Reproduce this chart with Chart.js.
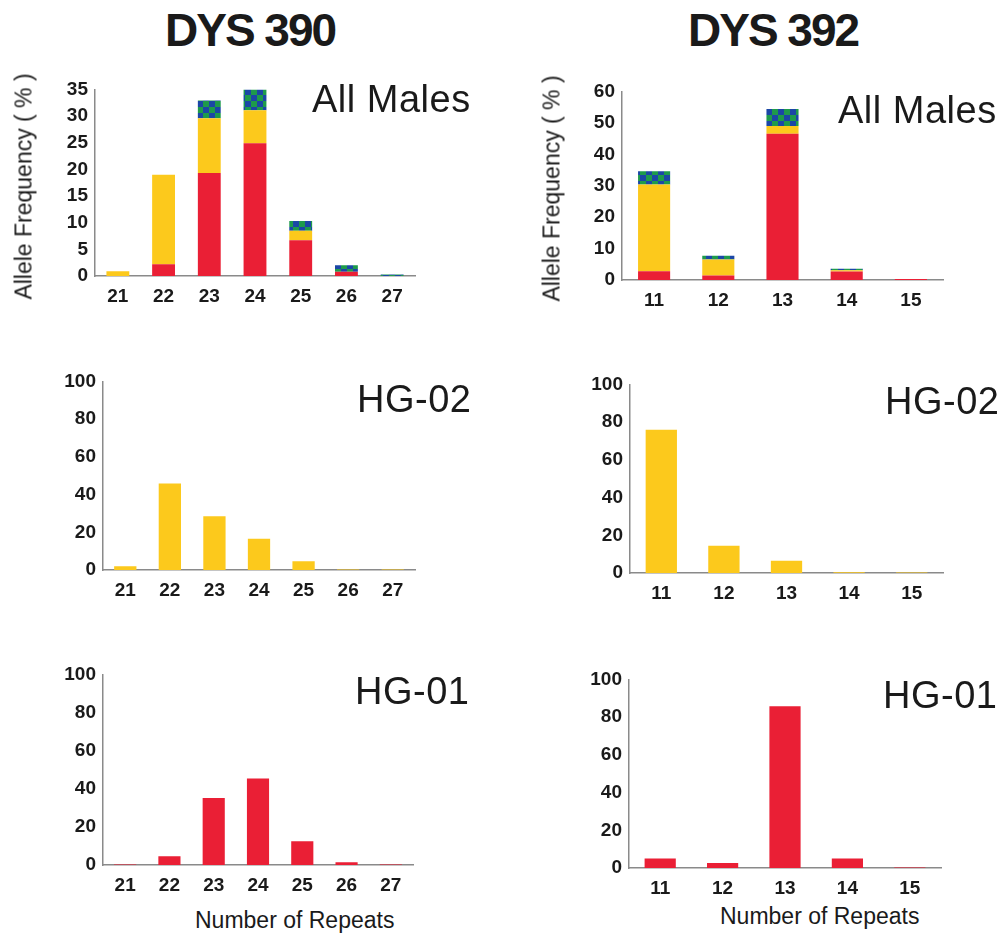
<!DOCTYPE html>
<html>
<head>
<meta charset="utf-8">
<script src="https://cdn.jsdelivr.net/npm/chart.js@4/dist/chart.umd.min.js"></script>
<style>
  body { margin: 0; background: #fff; }
  #page { position: relative; width: 1002px; height: 937px; overflow: hidden; font-family: "Liberation Sans", Arial, sans-serif; color: #1a1a1a; }
  .txt { position: absolute; white-space: nowrap; line-height: 1; }
  canvas { position: absolute; }
</style>
</head>
<body>
<div id="page"></div>
<script>
// categories
var dys390Repeats = ['21', '22', '23', '24', '25', '26', '27'];
var dys392Repeats = ['11', '12', '13', '14', '15'];

// DYS 390, all males, stacked (HG-01 red / HG-02 yellow / others checkered)
var dys390AllHg01 = [0, 2.2, 19.3, 24.9, 6.7, 0.8, 0];
var dys390AllHg02 = [0.9, 16.8, 10.3, 6.2, 1.8, 0, 0];
var dys390AllOther = [0, 0, 3.3, 3.9, 1.8, 1.2, 0.3];

// DYS 392, all males, stacked
var dys392AllHg01 = [2.8, 1.4, 46.5, 2.7, 0.3];
var dys392AllHg02 = [27.6, 5.1, 2.5, 0.4, 0];
var dys392AllOther = [4.2, 1.2, 5.4, 0.5, 0];

// haplogroup panels
var dys390Hg02 = [2.0, 45.8, 28.5, 16.6, 4.6, 0.3, 0.3];
var dys392Hg02 = [75.9, 14.5, 6.5, 0.4, 0.3];
var dys390Hg01 = [0.2, 4.6, 35.1, 45.4, 12.4, 1.5, 0.2];
var dys392Hg01 = [5.1, 2.6, 85.7, 5.1, 0.3];

var RED = '#ea1f35';
var YELLOW = '#fcc91c';
var BLUE = '#1b47a6';
var GREEN = '#1e9b4b';
var FONT = '"Liberation Sans", Arial, sans-serif';
var page = document.getElementById('page');

var addText = function(text, left, capTop, size, bold, spacing) {
  var d = document.createElement('div');
  d.className = 'txt';
  d.textContent = text;
  d.style.left = left + 'px';
  d.style.top = (capTop - 0.13 * size) + 'px';
  d.style.fontSize = size + 'px';
  if (bold) d.style.fontWeight = 'bold';
  if (spacing) d.style.letterSpacing = spacing + 'px';
  page.appendChild(d);
};
var addYTitle = function(text, cx, cy) {
  var d = document.createElement('div');
  d.className = 'txt';
  d.textContent = text;
  d.style.fontSize = '23px';
  d.style.width = '260px';
  d.style.textAlign = 'center';
  d.style.left = (cx - 130) + 'px';
  d.style.top = (cy - 11.5) + 'px';
  d.style.transform = 'rotate(-90deg)';
  page.appendChild(d);
};

var checker = function(ctx) {
  var c = document.createElement('canvas');
  c.width = 12; c.height = 12;
  var g = c.getContext('2d');
  g.fillStyle = GREEN; g.fillRect(0, 0, 12, 12);
  g.fillStyle = BLUE; g.fillRect(0, 0, 6, 6); g.fillRect(6, 6, 6, 6);
  return ctx.createPattern(c, 'repeat');
};

// axL/axR/axTop/axBottom = where the plot area sits on the page
var makeChart = function(box, cats, datasets, yMax, yStep, stacked) {
  var yW = 60, xH = 32, pad = 12;
  var canvas = document.createElement('canvas');
  var left = box.axL - yW, top = box.axTop - pad;
  var w = box.axR + pad - left, h = box.axBottom + xH - top;
  canvas.style.left = left + 'px';
  canvas.style.top = top + 'px';
  canvas.width = w; canvas.height = h;
  canvas.style.width = w + 'px'; canvas.style.height = h + 'px';
  page.appendChild(canvas);
  var ctx = canvas.getContext('2d');
  datasets.forEach(function(ds) {
    if (ds.backgroundColor === 'checker') ds.backgroundColor = checker(ctx);
    ds.barPercentage = 0.5;
    ds.categoryPercentage = 1.0;
    ds.borderWidth = 0;
  });
  var tickFont = { family: FONT, size: 19, weight: 'bold' };
  return new Chart(ctx, {
    type: 'bar',
    data: { labels: cats, datasets: datasets },
    options: {
      responsive: false,
      animation: false,
      layout: { padding: { top: pad, right: pad, left: 0, bottom: 0 } },
      plugins: { legend: { display: false }, tooltip: { enabled: false } },
      scales: {
        x: {
          stacked: stacked,
          grid: { display: false, drawTicks: false },
          border: { display: true, color: '#8a8a8a', width: 1.5 },
          ticks: { font: tickFont, color: '#1a1a1a', padding: 9 },
          afterFit: function(s) { s.height = xH; }
        },
        y: {
          stacked: stacked,
          min: 0, max: yMax,
          grid: { display: false, drawTicks: false },
          border: { display: true, color: '#8a8a8a', width: 1.5 },
          ticks: { font: tickFont, color: '#1a1a1a', padding: 7, stepSize: yStep },
          afterFit: function(s) { s.width = yW; }
        }
      }
    }
  });
};

// titles
addText('DYS 390', 165, 13, 46, true, -2);
addText('DYS 392', 688, 13, 46, true, -2);

// DYS 390 all males
makeChart({ axL: 95, axR: 415, axTop: 83, axBottom: 276 }, dys390Repeats, [
  { data: dys390AllHg01, backgroundColor: RED },
  { data: dys390AllHg02, backgroundColor: YELLOW },
  { data: dys390AllOther, backgroundColor: 'checker' }
], 35, 5, true);
addText('All Males', 312, 85, 38, false, 0.5);
addYTitle('Allele Frequency ( % )', 24, 186);

// DYS 392 all males
makeChart({ axL: 622, axR: 943, axTop: 85, axBottom: 280 }, dys392Repeats, [
  { data: dys392AllHg01, backgroundColor: RED },
  { data: dys392AllHg02, backgroundColor: YELLOW },
  { data: dys392AllOther, backgroundColor: 'checker' }
], 60, 10, true);
addText('All Males', 838, 96, 38, false, 0.5);
addYTitle('Allele Frequency ( % )', 552, 188);

// HG-02
makeChart({ axL: 103, axR: 415, axTop: 375, axBottom: 570 }, dys390Repeats, [
  { data: dys390Hg02, backgroundColor: YELLOW }
], 100, 20, false);
addText('HG-02', 357, 385, 38, false, 0.5);
makeChart({ axL: 630, axR: 943, axTop: 378, axBottom: 573 }, dys392Repeats, [
  { data: dys392Hg02, backgroundColor: YELLOW }
], 100, 20, false);
addText('HG-02', 885, 387, 38, false, 0.5);

// HG-01
makeChart({ axL: 103, axR: 413, axTop: 668, axBottom: 865 }, dys390Repeats, [
  { data: dys390Hg01, backgroundColor: RED }
], 100, 20, false);
addText('HG-01', 355, 677, 38, false, 0.5);
makeChart({ axL: 629, axR: 941, axTop: 673, axBottom: 868 }, dys392Repeats, [
  { data: dys392Hg01, backgroundColor: RED }
], 100, 20, false);
addText('HG-01', 883, 681, 38, false, 0.5);

// x titles
addText('Number of Repeats', 195, 912, 23, false, 0);
addText('Number of Repeats', 720, 908, 23, false, 0);
</script>
</body>
</html>
